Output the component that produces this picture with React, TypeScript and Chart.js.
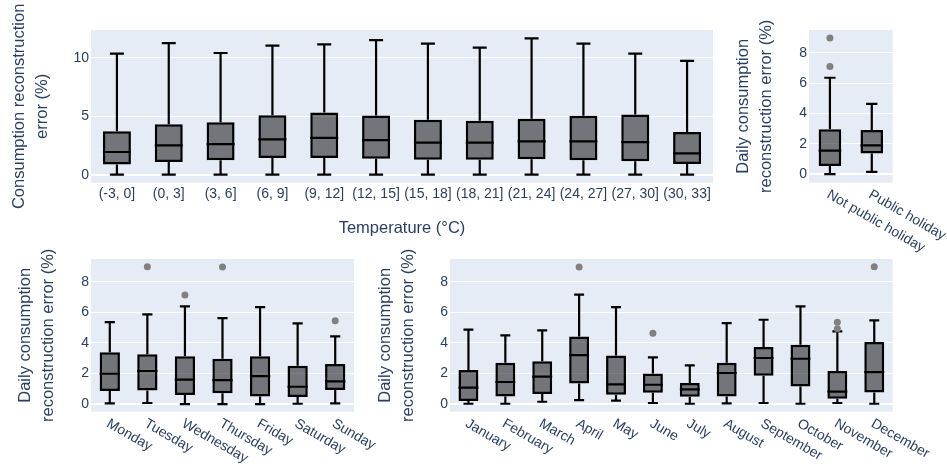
import React, { useEffect, useRef } from 'react';
import { Chart, registerables } from 'chart.js';

Chart.register(...registerables);

const FONT = '"Liberation Sans", Arial, Helvetica, sans-serif';
const TEXT = '#2a3f5f';
const PLOT_BG = '#e5ecf6';

// ---- Temperature panel ----
const tempBins = ['(-3, 0]', '(0, 3]', '(3, 6]', '(6, 9]', '(9, 12]', '(12, 15]', '(15, 18]', '(18, 21]', '(21, 24]', '(24, 27]', '(27, 30]', '(30, 33]'];
const tempMin = [0, 0, 0, 0, 0, 0, 0, 0, 0, 0, 0, 0];
const tempQ1 = [0.86, 1.09, 1.23, 1.43, 1.43, 1.37, 1.28, 1.28, 1.31, 1.23, 1.14, 0.91];
const tempMed = [1.94, 2.51, 2.62, 3.02, 3.16, 2.96, 2.74, 2.74, 2.85, 2.85, 2.79, 1.83];
const tempQ3 = [3.73, 4.33, 4.5, 5.1, 5.33, 5.07, 4.7, 4.62, 4.79, 5.05, 5.16, 3.65];
const tempMax = [10.37, 11.28, 10.43, 11.06, 11.17, 11.54, 11.23, 10.89, 11.68, 11.23, 10.37, 9.75];
const tempOutCats: string[] = [];
const tempOutVals: number[] = [];
const tempTicks = [0, 5, 10];

// ---- Public holiday panel ----
const holidayCats = ['Not public holiday', 'Public holiday'];
const holidayMin = [0, 0.15];
const holidayQ1 = [0.53, 1.36];
const holidayMed = [1.54, 1.89];
const holidayQ3 = [2.95, 2.9];
const holidayMax = [6.35, 4.63];
const holidayOutCats = ['Not public holiday', 'Not public holiday'];
const holidayOutVals = [8.97, 7.1];

// ---- Weekday panel ----
const dayCats = ['Monday', 'Tuesday', 'Wednesday', 'Thursday', 'Friday', 'Saturday', 'Sunday'];
const dayMin = [0.04, 0.07, 0, 0, 0, 0.02, 0.04];
const dayQ1 = [0.85, 0.89, 0.59, 0.7, 0.5, 0.46, 0.92];
const dayMed = [1.98, 2.16, 1.59, 1.57, 1.83, 1.13, 1.48];
const dayQ3 = [3.38, 3.25, 3.12, 2.96, 3.12, 2.51, 2.61];
const dayMax = [5.36, 5.86, 6.38, 5.62, 6.34, 5.27, 4.42];
const dayOutCats = ['Tuesday', 'Wednesday', 'Thursday', 'Sunday'];
const dayOutVals = [8.98, 7.12, 8.95, 5.45];

// ---- Month panel ----
const monthCats = ['January', 'February', 'March', 'April', 'May', 'June', 'July', 'August', 'September', 'October', 'November', 'December'];
const monthMin = [0.02, 0.02, 0.15, 0.26, 0.22, 0.07, 0.02, 0.04, 0.07, 0.02, 0.07, 0.02];
const monthQ1 = [0.2, 0.5, 0.65, 1.35, 0.61, 0.74, 0.48, 0.5, 1.85, 1.15, 0.35, 0.76];
const monthMed = [1.07, 1.44, 1.79, 3.2, 1.29, 1.26, 0.96, 2.03, 3.01, 2.96, 0.81, 2.09];
const monthQ3 = [2.22, 2.7, 2.79, 4.42, 3.18, 2.0, 1.37, 2.7, 3.73, 3.88, 2.16, 4.05];
const monthMax = [4.86, 4.49, 4.81, 7.15, 6.34, 3.05, 2.53, 5.29, 5.51, 6.38, 4.75, 5.47];
const monthOutCats = ['April', 'June', 'November', 'November', 'December'];
const monthOutVals = [8.95, 4.62, 5.34, 4.92, 8.98];

const dailyTicks = [0, 2, 4, 6, 8];
const dailyTitle = ['Daily consumption', 'reconstruction error (%)'];

type PanelProps = {
  rect: number[]; // left, top, width, height
  area: number[]; // left, top, right, bottom
  cats: string[];
  mins: number[];
  q1: number[];
  med: number[];
  q3: number[];
  maxs: number[];
  outCats: string[];
  outVals: number[];
  yMin: number;
  yMax: number;
  yTicks: number[];
  yTitle: string[];
  yTitleX: number;
  xTitle?: string;
  rotate: boolean;
};

const TITLE_LH = 1.42;
const TITLE_SIZE = 16.5;

function BoxPanel(p: PanelProps) {
  const ref = useRef<HTMLCanvasElement>(null);
  useEffect(() => {
    const canvas = ref.current as HTMLCanvasElement;
    const [rl, rt, rw, rh] = p.rect;
    const [al, at, ar, ab] = p.area;
    const yWidth = al - rl;
    const xHeight = rt + rh - ab;
    const titlePad = p.yTitleX - rl - (TITLE_SIZE * TITLE_LH) / 2;
    const boxes = p.cats.map((_, i) => [p.q1[i], p.q3[i]]);
    const outliers = p.outCats.map((c, i) => ({ x: c, y: p.outVals[i] }));

    const bgPlugin = {
      id: 'plotBg',
      beforeDraw(chart: any) {
        const { ctx, chartArea: a } = chart;
        ctx.save();
        ctx.fillStyle = PLOT_BG;
        ctx.fillRect(a.left, a.top, a.right - a.left, a.bottom - a.top);
        ctx.restore();
      },
    };

    const whiskerPlugin = {
      id: 'whiskers',
      afterDatasetDraw(chart: any, args: any) {
        if (args.index !== 0) return;
        const ctx = chart.ctx;
        const ys = chart.scales.y;
        ctx.save();
        ctx.strokeStyle = '#000';
        ctx.lineWidth = 2.2;
        args.meta.data.forEach((bar: any, i: number) => {
          const { x, width } = bar.getProps(['x', 'width'], true);
          const cap = width * 0.5;
          const yq1 = ys.getPixelForValue(p.q1[i]);
          const yq3 = ys.getPixelForValue(p.q3[i]);
          const ymin = ys.getPixelForValue(p.mins[i]);
          const ymax = ys.getPixelForValue(p.maxs[i]);
          const ymed = ys.getPixelForValue(p.med[i]);
          ctx.beginPath();
          ctx.moveTo(x, yq3);
          ctx.lineTo(x, ymax);
          ctx.moveTo(x - cap / 2, ymax);
          ctx.lineTo(x + cap / 2, ymax);
          ctx.moveTo(x, yq1);
          ctx.lineTo(x, ymin);
          ctx.moveTo(x - cap / 2, ymin);
          ctx.lineTo(x + cap / 2, ymin);
          ctx.moveTo(x - width / 2, ymed);
          ctx.lineTo(x + width / 2, ymed);
          ctx.stroke();
        });
        ctx.restore();
      },
    };

    const labelPlugin = {
      id: 'rotLabels',
      afterDraw(chart: any) {
        if (!p.rotate) return;
        const { ctx, chartArea } = chart;
        const xs = chart.scales.x;
        ctx.save();
        ctx.font = `14px ${FONT}`;
        ctx.fillStyle = TEXT;
        ctx.textAlign = 'left';
        ctx.textBaseline = 'middle';
        p.cats.forEach((c, i) => {
          const x = xs.getPixelForValue(i);
          ctx.save();
          ctx.translate(x - 2, chartArea.bottom + 11);
          ctx.rotate(Math.PI / 6);
          ctx.fillText(c, 0, 0);
          ctx.restore();
        });
        ctx.restore();
      },
    };

    const chart = new Chart(canvas, {
      type: 'bar',
      data: {
        labels: p.cats,
        datasets: [
          {
            type: 'bar',
            data: boxes as any,
            backgroundColor: 'rgba(0,0,0,0.5)',
            borderColor: '#000',
            borderWidth: 2.5,
            borderSkipped: false,
            barPercentage: 0.54,
            categoryPercentage: 1,
            order: 1,
          } as any,
          {
            type: 'scatter',
            data: outliers as any,
            pointRadius: 3.5,
            pointBackgroundColor: 'rgb(128,128,128)',
            pointBorderWidth: 0,
            order: 0,
          } as any,
        ],
      },
      options: {
        responsive: false,
        animation: false,
        events: [],
        layout: { padding: { left: 0, top: at - rt, right: rl + rw - ar, bottom: 0 } },
        plugins: { legend: { display: false }, tooltip: { enabled: false } },
        scales: {
          x: {
            type: 'category',
            offset: true,
            afterFit: (s: any) => {
              s.height = xHeight;
            },
            grid: { display: false, drawTicks: false },
            border: { display: false },
            ticks: p.rotate
              ? { display: false }
              : { font: { family: FONT, size: 14 }, color: TEXT, padding: 3, autoSkip: false, maxRotation: 0, minRotation: 0 },
            title: p.xTitle
              ? { display: true, text: p.xTitle, color: TEXT, font: { family: FONT, size: TITLE_SIZE, lineHeight: 1.2 }, padding: { top: 0, bottom: 1.8 } }
              : { display: false },
          } as any,
          y: {
            type: 'linear',
            min: p.yMin,
            max: p.yMax,
            afterBuildTicks: (s: any) => {
              s.ticks = p.yTicks.map((v) => ({ value: v }));
            },
            afterFit: (s: any) => {
              s.width = yWidth;
            },
            grid: {
              color: '#ffffff',
              lineWidth: (c: any) => (c.tick && c.tick.value === 0 ? 2 : 1),
              drawTicks: false,
            },
            border: { display: false },
            ticks: { font: { family: FONT, size: 14 }, color: TEXT, padding: 2 },
            title: {
              display: true,
              text: p.yTitle,
              color: TEXT,
              font: { family: FONT, size: TITLE_SIZE, lineHeight: TITLE_LH },
              padding: { top: titlePad, bottom: 0 },
            },
          } as any,
        },
      },
      plugins: [bgPlugin, whiskerPlugin, labelPlugin],
    });
    return () => chart.destroy();
  }, []);
  const [rl, rt, rw, rh] = p.rect;
  return (
    <canvas
      ref={ref}
      width={rw}
      height={rh}
      style={{ position: 'absolute', left: rl, top: rt, width: rw, height: rh }}
    />
  );
}

export default function App() {
  return (
    <div style={{ position: 'fixed', left: 0, top: 0, width: 947, height: 468, background: '#fff', overflow: 'hidden' }}>
      <BoxPanel
        rect={[0, 0, 720, 240]}
        area={[91, 30, 713, 182.7]}
        cats={tempBins}
        mins={tempMin}
        q1={tempQ1}
        med={tempMed}
        q3={tempQ3}
        maxs={tempMax}
        outCats={tempOutCats}
        outVals={tempOutVals}
        yMin={-0.69}
        yMax={12.4}
        yTicks={tempTicks}
        yTitle={['Consumption reconstruction', 'error (%)']}
        yTitleX={19}
        xTitle="Temperature (°C)"
        rotate={false}
      />
      <BoxPanel
        rect={[720, 0, 227, 275]}
        area={[809, 30, 892.7, 182.7]}
        cats={holidayCats}
        mins={holidayMin}
        q1={holidayQ1}
        med={holidayMed}
        q3={holidayQ3}
        maxs={holidayMax}
        outCats={holidayOutCats}
        outVals={holidayOutVals}
        yMin={-0.57}
        yMax={9.5}
        yTicks={dailyTicks}
        yTitle={dailyTitle}
        yTitleX={743.5}
        rotate={true}
      />
      <BoxPanel
        rect={[0, 240, 380, 228]}
        area={[91, 259, 354, 411.7]}
        cats={dayCats}
        mins={dayMin}
        q1={dayQ1}
        med={dayMed}
        q3={dayQ3}
        maxs={dayMax}
        outCats={dayOutCats}
        outVals={dayOutVals}
        yMin={-0.5}
        yMax={9.48}
        yTicks={dailyTicks}
        yTitle={dailyTitle}
        yTitleX={25}
        rotate={true}
      />
      <BoxPanel
        rect={[370, 240, 577, 228]}
        area={[450, 259, 892.7, 411.7]}
        cats={monthCats}
        mins={monthMin}
        q1={monthQ1}
        med={monthMed}
        q3={monthQ3}
        maxs={monthMax}
        outCats={monthOutCats}
        outVals={monthOutVals}
        yMin={-0.5}
        yMax={9.48}
        yTicks={dailyTicks}
        yTitle={dailyTitle}
        yTitleX={385}
        rotate={true}
      />
    </div>
  );
}
